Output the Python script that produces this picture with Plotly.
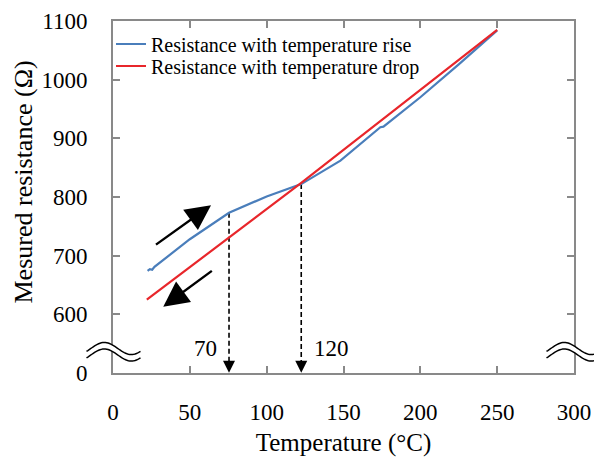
import math
import plotly.graph_objects as go

# ---- data ----
rise_temp = [22.5, 24.0, 25.5, 27.0, 50.0, 75.5, 100.0, 122.5, 148.0, 172.0, 174.0, 176.0, 200.0, 225.0, 250.0]
rise_res = [674, 677, 676, 681, 728, 773, 801, 822, 862, 914, 919, 920, 970, 1026, 1084]

drop_temp = [22.0, 75.5, 122.5, 250.0]
drop_res = [625, 731, 824, 1085]

marker_temps = [75.5, 122.5]
marker_tops = [773, 822]
marker_labels = ["70", "120"]

x_ticks = [0, 50, 100, 150, 200, 250, 300]
y_tickvals = [500, 600, 700, 800, 900, 1000, 1100]   # 500 shown as the broken-axis "0"
y_ticktext = ["0", "600", "700", "800", "900", "1000", "1100"]

FONT = "Liberation Serif"
GRAY = "#898989"
BLUE = "#4a7ebb"
RED = "#e8262b"

W, H = 594, 457
ML, MR, MT, MB = 113, 20, 21, 84
PW, PH = W - ML - MR, H - MT - MB


def px2paper(px, py):
    return (px - ML) / PW, (H - MB - py) / PH


fig = go.Figure()

# dashed guide lines
for t, top in zip(marker_temps, marker_tops):
    fig.add_trace(go.Scatter(x=[t, t], y=[top, 512], mode="lines",
                             line=dict(color="black", width=1.6, dash="5px,3px"),
                             showlegend=False, hoverinfo="skip"))

fig.add_trace(go.Scatter(x=rise_temp, y=rise_res, mode="lines",
                         line=dict(color=BLUE, width=2.2),
                         name="Resistance with temperature rise", legend="legend"))
fig.add_trace(go.Scatter(x=drop_temp, y=drop_res, mode="lines",
                         line=dict(color=RED, width=2.2),
                         name="Resistance with temperature drop", legend="legend2"))

annotations = []
# arrowheads of dashed guides
for t in marker_temps:
    annotations.append(dict(x=t, y=500.5, ax=t, ay=515, xref="x", yref="y", axref="x", ayref="y",
                            text="", showarrow=True, arrowhead=2, arrowsize=1.5, arrowwidth=1.6,
                            arrowcolor="black"))
# labels 70 / 120
annotations.append(dict(x=60, y=542, xref="x", yref="y", text=marker_labels[0], showarrow=False,
                        font=dict(family=FONT, size=23, color="black")))
annotations.append(dict(x=142.5, y=542, xref="x", yref="y", text=marker_labels[1], showarrow=False,
                        font=dict(family=FONT, size=23, color="black")))
# heating / cooling arrows
annotations.append(dict(x=63.8, y=786, ax=27, ay=717, xref="x", yref="y", axref="x", ayref="y",
                        text="", showarrow=True, arrowhead=2, arrowsize=2.1, arrowwidth=2.4,
                        arrowcolor="black"))
annotations.append(dict(x=32.7, y=613, ax=65.3, ay=676, xref="x", yref="y", axref="x", ayref="y",
                        text="", showarrow=True, arrowhead=2, arrowsize=2.1, arrowwidth=2.4,
                        arrowcolor="black"))
# y-axis title (placed as in the reference, above the plot's centre)
tx, ty = px2paper(23, 182.5)
annotations.append(dict(x=tx, y=ty, xref="paper", yref="paper", text="Mesured resistance (Ω)",
                        textangle=-90, showarrow=False, xanchor="center", yanchor="middle",
                        font=dict(family=FONT, size=26, color="black")))

# axis-break symbols (double wavy lines) in paper coordinates
shapes = []


def wave_points(cx, cy, half_w=27, amp=6.0, n=40):
    pts = []
    for i in range(n + 1):
        t = i / n
        x = cx - half_w + 2 * half_w * t
        y = cy - amp * math.sin(2 * math.pi * (t - 0.08))
        pts.append((x, y))
    return pts


def to_path(pts, close=False):
    s = ""
    for i, (x, y) in enumerate(pts):
        xp, yp = px2paper(x, y)
        s += ("M" if i == 0 else "L") + f"{xp:.5f},{yp:.5f} "
    if close:
        s += "Z"
    return s


for cx in (113.5, 573.5):
    top = wave_points(cx, 348.5)
    bot = wave_points(cx, 355.0)
    shapes.append(dict(type="path", xref="paper", yref="paper", path=to_path(top + bot[::-1], True),
                       fillcolor="white", line=dict(width=0), layer="above"))
    shapes.append(dict(type="path", xref="paper", yref="paper", path=to_path(top),
                       line=dict(color="black", width=1.5), layer="above"))
    shapes.append(dict(type="path", xref="paper", yref="paper", path=to_path(bot),
                       line=dict(color="black", width=1.5), layer="above"))

axis_common = dict(showgrid=False, zeroline=False, showline=True, linecolor=GRAY, linewidth=2,
                   mirror="ticks", ticks="inside", ticklen=7, tickwidth=1.5, tickcolor=GRAY,
                   tickfont=dict(family=FONT, size=23, color="black"), automargin=False)

legend_common = dict(xanchor="left", yanchor="middle", bgcolor="rgba(0,0,0,0)",
                     font=dict(family=FONT, size=20, color="black"), itemwidth=30,
                     borderwidth=0)
lx, _ = px2paper(111, 0)
_, ly1 = px2paper(0, 44)
_, ly2 = px2paper(0, 66)

fig.update_layout(
    width=W, height=H,
    margin=dict(l=ML, r=MR, t=MT, b=MB, pad=0, autoexpand=False),
    paper_bgcolor="white", plot_bgcolor="white",
    xaxis=dict(range=[0, 300], tickvals=x_ticks, ticklabelstandoff=17,
               title=dict(text="Temperature (°C)", font=dict(family=FONT, size=25, color="black"), standoff=16),
               **axis_common),
    yaxis=dict(range=[500, 1100], tickvals=y_tickvals, ticktext=y_ticktext, ticklabelstandoff=19,
               **axis_common),
    legend=dict(x=lx, y=ly1, **legend_common),
    legend2=dict(x=lx, y=ly2, **legend_common),
    annotations=annotations,
    shapes=shapes,
)

fig.write_html("out.html")
